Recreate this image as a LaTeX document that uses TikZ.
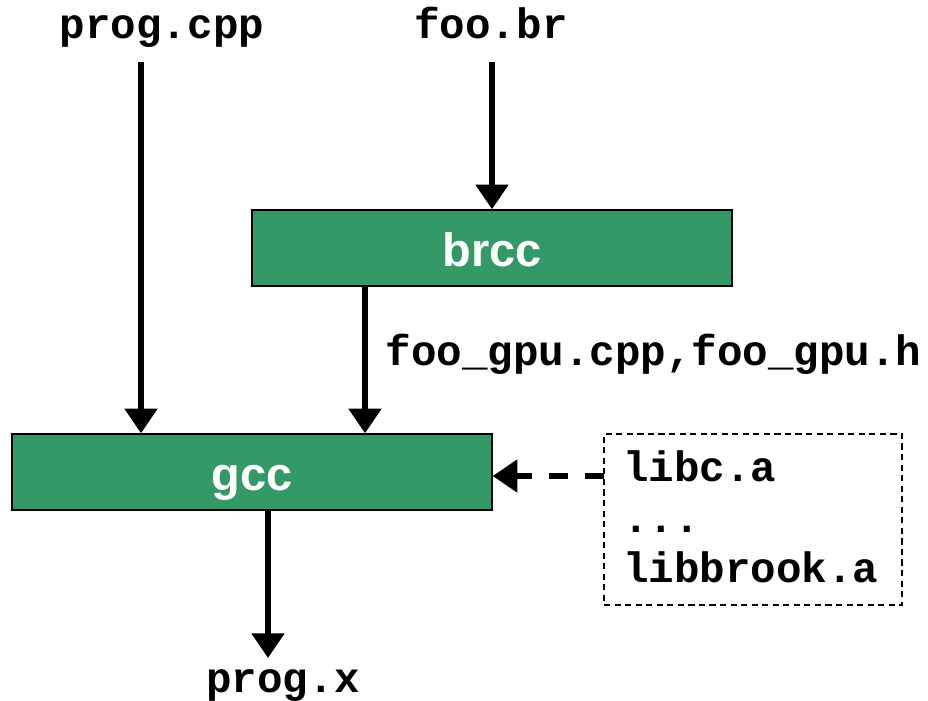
\documentclass[tikz,border=0pt]{standalone}
\usepackage{fontspec}
\usetikzlibrary{arrows.meta}
\newfontfamily\codefont{Liberation Mono}
\newfontfamily\boxfont{Liberation Sans}
\definecolor{brookgreen}{RGB}{51,153,102}

\begin{document}
\begin{tikzpicture}[x=0.02cm, y=-0.02cm, line cap=butt, line join=miter,
		>={Triangle[width=18pt, length=14pt]},
		code/.style={font=\codefont\bfseries\fontsize{24.2}{28}\selectfont, inner sep=0pt},
		tool/.style={draw=black, line width=0.8pt, fill=brookgreen, text=white,
			minimum width=9.6cm, minimum height=1.52cm, inner sep=0pt,
			font=\boxfont\bfseries\fontsize{26.7}{30}\selectfont, text height=21.5pt, text depth=0pt},
		flow/.style={->, line width=3.4pt},
		libbox/.style={draw=black, line width=0.8pt, dash pattern=on 3.5pt off 2.5pt,
			minimum width=5.96cm, minimum height=3.42cm, inner sep=0pt},
		libflow/.style={->, line width=3.4pt, dash pattern=on 11pt off 9.5pt}]
			\useasboundingbox (0,0) rectangle (928,700);
			% inputs
			\node[code, anchor=base] (cpp) at (162,38) {prog.cpp};
			\node[code, anchor=base] (br) at (491,38) {foo.br};
			% tools
			\node[tool] (brcc) at (492,248) {brcc};
			\node[tool] (gcc) at (252,472) {gcc};
			% libraries
			\node[libbox] (libs) at (753,519.5) {};
			\node[code, anchor=base west] (liba) at (623,481) {libc.a};
			\node[code, anchor=base west] (libdots) at (623,532) {...};
			\node[code, anchor=base west] (libbrook) at (623,582) {libbrook.a};
			% output
			\node[code, anchor=base] (progx) at (283,692) {prog.x};
			% arrows
			\coordinate (cppout) at (141,62);
			\coordinate (brout) at (492,62);
			\coordinate (gpuin) at (365,0);
			\coordinate (xout) at (268,0);
			\coordinate (xend) at (268,658);
			\coordinate (libout) at (604,476);
			\draw[flow] (cppout) -- (cppout |- gcc.north);
			\draw[flow] (brout) -- (brcc.north);
			\draw[flow] (gpuin |- brcc.south) -- (gpuin |- gcc.north)
				node[code, pos=0.5, anchor=base west, xshift=10pt, yshift=-3pt] (gpufiles) {foo\_gpu.cpp,foo\_gpu.h};
			\draw[flow] (xout |- gcc.south) -- (xend);
			\draw[libflow] (libout) -- (libout -| gcc.east);
		\end{tikzpicture}
\end{document}
